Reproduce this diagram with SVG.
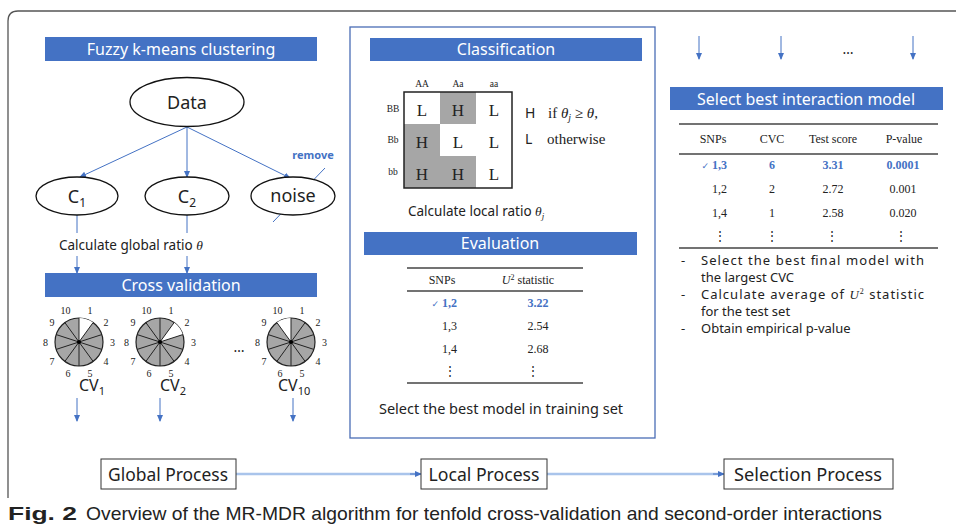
<svg xmlns="http://www.w3.org/2000/svg" width="956" height="527" viewBox="0 0 956 527">
<defs>
<style>
.bar{fill:#4472C4;}
.bt{fill:#fff;font-family:"Noto Sans","Open Sans",sans-serif;font-size:16px;text-anchor:middle;}
.s{font-family:"Noto Sans","Open Sans",sans-serif;fill:#222;}
.sf{font-family:"Liberation Serif","Times New Roman",serif;fill:#222;}
.c{text-anchor:middle;}
.ln{stroke:#4472C4;stroke-width:1;fill:none;}
.ell{fill:#fff;stroke:#111;stroke-width:1.3;}
.rule{stroke:#444;stroke-width:1.5;}
.blue{fill:#4472C4;font-weight:bold;}
.pl{font-family:"Liberation Serif",serif;font-size:10px;fill:#222;text-anchor:middle;dominant-baseline:central;}
.box{fill:#fff;stroke:#333;stroke-width:1;}
</style>
<marker id="ah" markerWidth="7" markerHeight="7" refX="6" refY="3.5" orient="auto" markerUnits="userSpaceOnUse">
<path d="M0,0.5 L7,3.5 L0,6.5 Z" fill="#4472C4"/>
</marker>
<g id="pie">
<circle r="24" fill="#A6A6A6" stroke="#222" stroke-width="1.2"/>
</g>
<g id="spokes" stroke="#222" stroke-width="1">
<line x1="0" y1="-24" x2="0" y2="24"/>
<line x1="14.11" y1="-19.42" x2="-14.11" y2="19.42"/>
<line x1="22.83" y1="-7.42" x2="-22.83" y2="7.42"/>
<line x1="22.83" y1="7.42" x2="-22.83" y2="-7.42"/>
<line x1="14.11" y1="19.42" x2="-14.11" y2="-19.42"/>
<circle r="2" fill="#000" stroke="none"/>
</g>
<g id="plabels">
<text class="pl" x="11" y="-31.5">1</text>
<text class="pl" x="27" y="-19.6">2</text>
<text class="pl" x="33.5" y="0">3</text>
<text class="pl" x="27" y="19.6">4</text>
<text class="pl" x="11" y="31.5">5</text>
<text class="pl" x="-11" y="31.5">6</text>
<text class="pl" x="-27" y="19.6">7</text>
<text class="pl" x="-33.5" y="0">8</text>
<text class="pl" x="-27" y="-19.6">9</text>
<text class="pl" x="-13.5" y="-31.5">10</text>
</g>
</defs>
<rect width="956" height="527" fill="#fff"/>
<path d="M8,498 L8,21 Q8,11 18,11 L960,11" fill="none" stroke="#555" stroke-width="1.3"/>

<!-- connectors -->
<g id="connectors">
<line class="ln" x1="187" y1="127" x2="80" y2="177" marker-end="url(#ah)"/>
<line class="ln" x1="187" y1="127" x2="187" y2="177" marker-end="url(#ah)"/>
<line class="ln" x1="187" y1="127" x2="290" y2="178" marker-end="url(#ah)"/>
<line class="ln" x1="77" y1="215" x2="77" y2="233"/>
<line class="ln" x1="187" y1="215" x2="187" y2="233"/>
<line class="ln" x1="77" y1="256" x2="77" y2="273" marker-end="url(#ah)"/>
<line class="ln" x1="187" y1="256" x2="187" y2="273" marker-end="url(#ah)"/>
<line class="ln" x1="77" y1="398" x2="77" y2="421" marker-end="url(#ah)"/>
<line class="ln" x1="160" y1="398" x2="160" y2="421" marker-end="url(#ah)"/>
<line class="ln" x1="293" y1="398" x2="293" y2="421" marker-end="url(#ah)"/>
<line class="ln" x1="699" y1="36" x2="699" y2="59" marker-end="url(#ah)"/>
<line class="ln" x1="781" y1="36" x2="781" y2="59" marker-end="url(#ah)"/>
<line class="ln" x1="913" y1="36" x2="913" y2="59" marker-end="url(#ah)"/>
<line x1="236" y1="474" x2="417" y2="474" stroke="#A9C4EB" stroke-width="2.5"/>
<line class="ln" x1="410" y1="474" x2="421" y2="474" marker-end="url(#ah)" stroke-width="0.5"/>
<line x1="547" y1="474" x2="720" y2="474" stroke="#A9C4EB" stroke-width="2.5"/>
<line class="ln" x1="713" y1="474" x2="724" y2="474" marker-end="url(#ah)" stroke-width="0.5"/>
<line x1="273" y1="222" x2="325" y2="168" stroke="#4472C4" stroke-width="1"/>
</g>

<!-- Global process -->
<g id="fuzzy-bar"><rect class="bar" x="45" y="37" width="272" height="24"/><text class="bt" x="181" y="55">Fuzzy k-means clustering</text></g>
<g id="data"><ellipse class="ell" cx="187" cy="102" rx="57" ry="24.5"/><text class="s c" x="187" y="109" font-size="18">Data</text></g>
<g id="c1"><ellipse class="ell" cx="77" cy="196" rx="41" ry="19"/><text class="s c" x="77" y="203" font-size="18">C<tspan font-size="12" dy="4">1</tspan></text></g>
<g id="c2"><ellipse class="ell" cx="187" cy="196" rx="42" ry="19"/><text class="s c" x="187" y="203" font-size="18">C<tspan font-size="12" dy="4">2</tspan></text></g>
<g id="noise"><ellipse class="ell" cx="293" cy="196" rx="42" ry="19"/><text class="s c" x="293" y="202" font-size="18">noise</text></g>
<g id="remove"><text x="313" y="159" font-family="Noto Sans,sans-serif" font-size="11" class="blue c">remove</text></g>
<g id="global-ratio"><text class="s" x="59" y="250" font-size="13.5">Calculate global ratio <tspan font-family="Liberation Serif,serif" font-style="italic">θ</tspan></text></g>
<g id="cv-bar"><rect class="bar" x="45" y="273" width="272" height="24"/><text class="bt" x="181" y="291">Cross validation</text></g>

<g id="cv1" transform="translate(79,342)">
<use href="#pie"/>
<path d="M0,0 L0,-24 A24,24 0 0 1 14.11,-19.42 Z" fill="#fff"/>
<use href="#spokes"/><use href="#plabels"/>
<text class="s" x="0" y="49" font-size="16">CV<tspan font-size="11" dy="4">1</tspan></text>
</g>
<g id="cv2" transform="translate(160,342)">
<use href="#pie"/>
<path d="M0,0 L14.11,-19.42 A24,24 0 0 1 22.83,-7.42 Z" fill="#fff"/>
<use href="#spokes"/><use href="#plabels"/>
<text class="s" x="0" y="49" font-size="16">CV<tspan font-size="11" dy="4">2</tspan></text>
</g>
<g id="cv10" transform="translate(291,342)">
<use href="#pie"/>
<path d="M0,0 L-14.11,-19.42 A24,24 0 0 1 0,-24 Z" fill="#fff"/>
<use href="#spokes"/><use href="#plabels"/>
<text class="s" x="-13" y="49" font-size="16">CV<tspan font-size="11" dy="4">10</tspan></text>
</g>
<text class="s c" x="239" y="352" font-size="14">…</text>

<!-- Local process -->
<g id="local-box"><rect x="350" y="27" width="305" height="411" fill="none" stroke="#4A6DB5" stroke-width="1.3"/></g>
<g id="class-bar"><rect class="bar" x="370" y="38" width="272" height="23"/><text class="bt" x="506" y="55">Classification</text></g>
<g id="grid">
<rect x="440" y="92" width="36" height="32" fill="#A6A6A6"/>
<rect x="404" y="124" width="36" height="64" fill="#A6A6A6"/>
<rect x="440" y="156" width="36" height="32" fill="#A6A6A6"/>
<rect x="404" y="92" width="108" height="96" fill="none" stroke="#222" stroke-width="1.5"/>
<g class="sf c" font-size="17">
<text x="422" y="116">L</text><text x="458" y="116">H</text><text x="494" y="116">L</text>
<text x="422" y="148">H</text><text x="458" y="148">L</text><text x="494" y="148">L</text>
<text x="422" y="180">H</text><text x="458" y="180">H</text><text x="494" y="180">L</text>
</g>
<g class="sf c" font-size="9.5">
<text x="422" y="87">AA</text><text x="458" y="87">Aa</text><text x="494" y="87">aa</text>
<text x="393" y="112">BB</text><text x="393" y="143">Bb</text><text x="393" y="175">bb</text>
</g>
</g>
<g id="rule-text">
<text class="s" x="525" y="118" font-size="14">H</text>
<text class="sf" x="548" y="118" font-size="15">if <tspan font-style="italic">θ</tspan><tspan font-style="italic" font-size="10" dy="3">j</tspan><tspan dy="-3"> ≥ </tspan><tspan font-style="italic">θ</tspan>,</text>
<text class="s" x="525" y="144" font-size="14">L</text>
<text class="sf" x="547" y="144" font-size="15">otherwise</text>
</g>
<g id="local-ratio"><text class="s" x="408" y="216" font-size="13.5">Calculate local ratio <tspan font-family="Liberation Serif,serif" font-style="italic">θ</tspan><tspan font-family="Liberation Serif,serif" font-style="italic" font-size="9" dy="3">j</tspan></text></g>
<g id="eval-bar"><rect class="bar" x="364" y="232" width="273" height="23"/><text class="bt" x="500" y="249">Evaluation</text></g>
<g id="eval-table">
<line class="rule" x1="407" y1="268" x2="583" y2="268"/>
<line class="rule" x1="407" y1="291" x2="583" y2="291"/>
<line class="rule" x1="407" y1="383" x2="583" y2="383"/>
<g class="sf" font-size="12">
<text x="442" y="284" class="c">SNPs</text>
<text x="528" y="284" class="c"><tspan font-style="italic">U</tspan><tspan font-size="8" dy="-4">2</tspan><tspan dy="4"> statistic</tspan></text>
<text x="457" y="307" text-anchor="end" fill="#4472C4" font-weight="bold"><tspan font-family="DejaVu Sans,sans-serif" font-size="9" font-weight="normal">✓</tspan> 1,2</text>
<text x="538" y="307" class="c" fill="#4472C4" font-weight="bold">3.22</text>
<text x="457" y="330" text-anchor="end">1,3</text><text x="538" y="330" class="c">2.54</text>
<text x="457" y="353" text-anchor="end">1,4</text><text x="538" y="353" class="c">2.68</text>
<text x="450" y="375" class="c">⋮</text><text x="533" y="375" class="c">⋮</text>
</g>
</g>
<g id="select-train"><text class="s c" x="501" y="414" font-size="14.5">Select the best model in training set</text></g>

<!-- Selection process -->
<text class="s c" x="848" y="54" font-size="14">…</text>
<g id="sel-bar"><rect class="bar" x="670" y="87" width="273" height="23"/><text class="bt" x="806" y="105">Select best interaction model</text></g>
<g id="sel-table">
<line class="rule" x1="679" y1="124" x2="938" y2="124"/>
<line class="rule" x1="679" y1="154" x2="938" y2="154"/>
<line class="rule" x1="679" y1="248" x2="938" y2="248"/>
<g class="sf" font-size="12">
<text x="713" y="143" class="c">SNPs</text>
<text x="772" y="143" class="c">CVC</text>
<text x="833" y="143" class="c">Test score</text>
<text x="904" y="143" class="c">P-value</text>
<g fill="#4472C4" font-weight="bold">
<text x="727" y="169" text-anchor="end"><tspan font-family="DejaVu Sans,sans-serif" font-size="9" font-weight="normal">✓</tspan> 1,3</text>
<text x="772" y="169" class="c">6</text>
<text x="833" y="169" class="c">3.31</text>
<text x="903" y="169" class="c">0.0001</text>
</g>
<text x="727" y="193" text-anchor="end">1,2</text><text x="772" y="193" class="c">2</text><text x="833" y="193" class="c">2.72</text><text x="903" y="193" class="c">0.001</text>
<text x="727" y="217" text-anchor="end">1,4</text><text x="772" y="217" class="c">1</text><text x="833" y="217" class="c">2.58</text><text x="903" y="217" class="c">0.020</text>
<text x="720" y="240" class="c">⋮</text><text x="772" y="240" class="c">⋮</text><text x="832" y="240" class="c">⋮</text><text x="901" y="240" class="c">⋮</text>
</g>
</g>
<g id="bullets" class="s" font-size="13">
<text x="681" y="265">-</text>
<text x="701" y="265" textLength="223" lengthAdjust="spacing">Select the best final model with</text>
<text x="701" y="282">the largest CVC</text>
<text x="681" y="299">-</text>
<text x="701" y="299" textLength="223" lengthAdjust="spacing">Calculate average of <tspan font-family="Liberation Serif,serif" font-style="italic">U</tspan><tspan font-family="Liberation Serif,serif" font-size="8" dy="-5">2</tspan><tspan dy="5">  statistic</tspan></text>
<text x="701" y="316">for the test set</text>
<text x="681" y="333">-</text>
<text x="701" y="333">Obtain empirical p-value</text>
</g>

<!-- bottom process boxes -->
<g id="global-process"><rect class="box" x="101" y="459" width="135" height="30"/><text class="s c" x="168" y="481" font-size="18" textLength="120" lengthAdjust="spacingAndGlyphs">Global Process</text></g>
<g id="local-process"><rect class="box" x="421" y="459" width="126" height="30"/><text class="s c" x="484" y="481" font-size="18" textLength="111" lengthAdjust="spacingAndGlyphs">Local Process</text></g>
<g id="selection-process"><rect class="box" x="724" y="459" width="169" height="30"/><text class="s c" x="808" y="481" font-size="18" textLength="148" lengthAdjust="spacingAndGlyphs">Selection Process</text></g>

<g id="caption">
<text x="8" y="520" font-family="Liberation Sans,Arial,sans-serif" font-size="19" font-weight="bold" fill="#222" textLength="69" lengthAdjust="spacingAndGlyphs">Fig. 2</text>
<text x="86" y="520" font-family="Liberation Sans,Arial,sans-serif" font-size="19" fill="#222" textLength="796" lengthAdjust="spacingAndGlyphs">Overview of the MR-MDR algorithm for tenfold cross-validation and second-order interactions</text>
</g>
</svg>
